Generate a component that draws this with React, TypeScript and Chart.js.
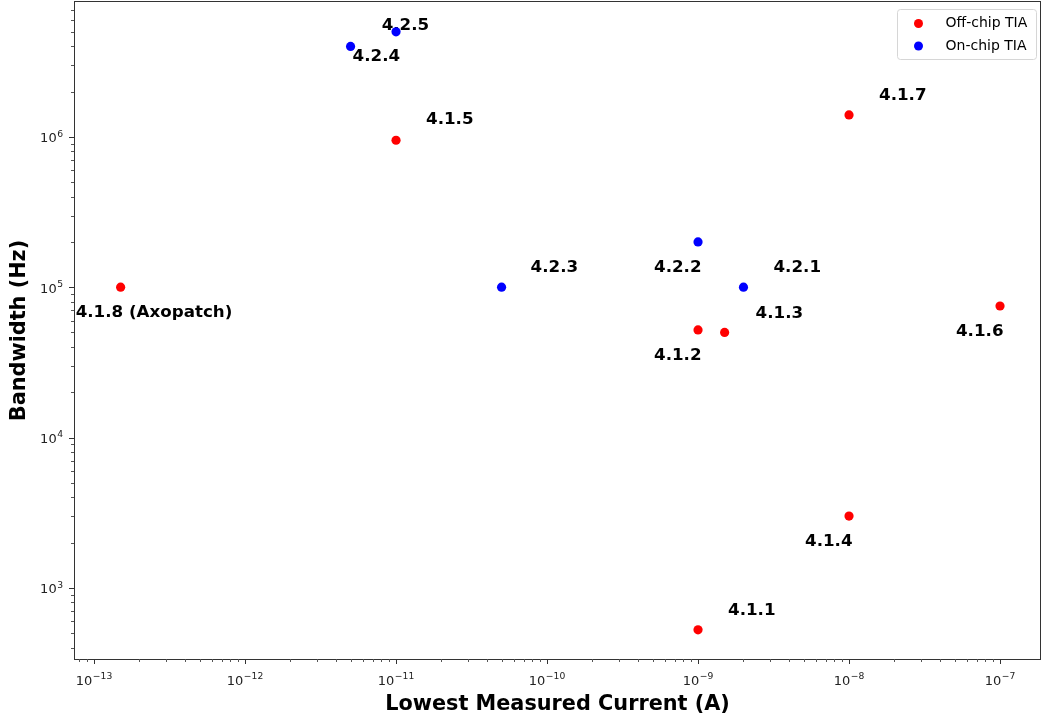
import React, { useEffect, useRef } from 'react';
import { Chart, registerables } from 'chart.js';

Chart.register(...registerables);

// ---------------- data ----------------
const offChipLabels = ['4.1.1', '4.1.2', '4.1.3', '4.1.4', '4.1.5', '4.1.6', '4.1.7', '4.1.8 (Axopatch)'];
const offChipCurrent = [1e-9, 1e-9, 1.5e-9, 1e-8, 1e-11, 1e-7, 1e-8, 1.5e-13];
const offChipBandwidth = [525, 5.2e4, 5e4, 3e3, 9.5e5, 7.5e4, 1.4e6, 1e5];

const onChipLabels = ['4.2.1', '4.2.2', '4.2.3', '4.2.4', '4.2.5'];
const onChipCurrent = [2e-9, 1e-9, 5e-11, 5e-12, 1e-11];
const onChipBandwidth = [1e5, 2e5, 1e5, 4e6, 5e6];

const xDecades = [-13, -12, -11, -10, -9, -8, -7];
const yDecades = [3, 4, 5, 6];
const xRange = [7.48e-14, 1.84e-7];
const yRange = [336, 7.9e6];

// ---------------- label placement (pixel offsets: text left edge, digit mid-line) ----------------
const offChipLabelOffsets = [[30, -21], [-44, 24], [31, -21], [-44, 24], [30, -22], [-44, 24], [30, -21], [-45, 24]];
const onChipLabelOffsets = [[30, -21], [-44, 23.5], [29, -21], [2, 8], [-14.4, -7.7]];

const FONT = '"DejaVu Sans", "Liberation Sans", sans-serif';

function buildTicks(decades: number[], range: number[]) {
  const ticks: { value: number; major: boolean; exp: number }[] = [];
  const lo = Math.floor(Math.log10(range[0]));
  const hi = Math.floor(Math.log10(range[1]));
  for (let d = lo; d <= hi; d++) {
    for (let m = 1; m <= 9; m++) {
      const v = m * Math.pow(10, d);
      if (v >= range[0] && v <= range[1]) {
        ticks.push({ value: v, major: m === 1 && decades.includes(d), exp: d });
      }
    }
  }
  return ticks;
}

const xTickList = buildTicks(xDecades, xRange);
const yTickList = buildTicks(yDecades, yRange);

const expText = (e: number) => String(e).replace('-', '\u2212');

function drawPow(ctx: CanvasRenderingContext2D, exp: number, x: number, baseline: number, align: 'center' | 'right') {
  const base = 13;
  const small = 9.2;
  ctx.font = `${base}px ${FONT}`;
  const w1 = ctx.measureText('10').width;
  ctx.font = `${small}px ${FONT}`;
  const et = expText(exp);
  const w2 = ctx.measureText(et).width;
  const total = w1 + w2 + 0.5;
  const x0 = align === 'center' ? x - total / 2 : x - total;
  ctx.textAlign = 'left';
  ctx.textBaseline = 'alphabetic';
  ctx.font = `${base}px ${FONT}`;
  ctx.fillText('10', x0, baseline);
  ctx.font = `${small}px ${FONT}`;
  ctx.fillText(et, x0 + w1 + 0.5, baseline - 5.8);
}

const decorPlugin = {
  id: 'decor',
  beforeDatasetsDraw(chart: any) {
    const { ctx, scales } = chart;
    const size = 16.7;
    ctx.save();
    ctx.font = `bold ${size}px ${FONT}`;
    ctx.fillStyle = '#000';
    ctx.textAlign = 'left';
    ctx.textBaseline = 'alphabetic';
    const groups = [
      { xs: offChipCurrent, ys: offChipBandwidth, labels: offChipLabels, offs: offChipLabelOffsets },
      { xs: onChipCurrent, ys: onChipBandwidth, labels: onChipLabels, offs: onChipLabelOffsets },
    ];
    groups.forEach((g) => {
      g.labels.forEach((lab, i) => {
        const px = scales.x.getPixelForValue(g.xs[i]);
        const py = scales.y.getPixelForValue(g.ys[i]);
        const [dx, dy] = g.offs[i];
        ctx.fillText(lab, px + dx, py + dy + 0.3645 * size);
      });
    });
    ctx.restore();
  },
  afterDraw(chart: any) {
    const { ctx, chartArea, scales } = chart;
    const { left, right, top, bottom } = chartArea;
    ctx.save();
    // frame
    ctx.strokeStyle = '#333';
    ctx.lineWidth = 1;
    ctx.strokeRect(left - 0.5, top - 0.5, right - left + 1, bottom - top + 1);
    // tick marks + tick labels
    ctx.fillStyle = '#222';
    xTickList.forEach((t) => {
      const raw = scales.x.getPixelForValue(t.value);
      const px = Math.round(raw) + 0.5;
      const len = t.major ? 5 : 3;
      ctx.strokeStyle = t.major ? '#333' : '#555';
      ctx.beginPath();
      ctx.moveTo(px, bottom);
      ctx.lineTo(px, bottom + len);
      ctx.stroke();
      if (t.major) drawPow(ctx, t.exp, raw, bottom + 25.5, 'center');
    });
    yTickList.forEach((t) => {
      const raw = scales.y.getPixelForValue(t.value);
      const py = Math.round(raw) + 0.5;
      const len = t.major ? 5 : 3;
      ctx.strokeStyle = t.major ? '#333' : '#555';
      ctx.beginPath();
      ctx.moveTo(left - 1, py);
      ctx.lineTo(left - 1 - len, py);
      ctx.stroke();
      if (t.major) drawPow(ctx, t.exp, left - 12, raw + 5.5, 'right');
    });
    // legend
    const bw = 139;
    const bh = 50;
    const bx = right - 3.5 - bw;
    const by = top + 7.5;
    ctx.beginPath();
    ctx.roundRect(bx, by, bw, bh, 3);
    ctx.fillStyle = 'rgba(255,255,255,0.8)';
    ctx.fill();
    ctx.strokeStyle = '#d6d6d6';
    ctx.stroke();
    const lsize = 14;
    ctx.font = `${lsize}px ${FONT}`;
    ctx.textAlign = 'left';
    ctx.textBaseline = 'alphabetic';
    chart.data.datasets.forEach((ds: any, i: number) => {
      const my = by + 14 + i * 22.5;
      ctx.beginPath();
      ctx.arc(bx + 21, my, 4.5, 0, Math.PI * 2);
      ctx.fillStyle = ds.backgroundColor;
      ctx.fill();
      ctx.fillStyle = '#000';
      ctx.fillText(ds.label, bx + 48, my - 1.2 + 0.3645 * lsize);
    });
    ctx.restore();
  },
};

export default function App() {
  const canvasRef = useRef<HTMLCanvasElement | null>(null);

  useEffect(() => {
    if (!canvasRef.current) return;
    const chart = new Chart(canvasRef.current, {
      type: 'scatter',
      data: {
        datasets: [
          {
            label: 'Off-chip TIA',
            data: offChipCurrent.map((x, i) => ({ x, y: offChipBandwidth[i] })),
            backgroundColor: '#ff0000',
            borderWidth: 0,
            pointRadius: 4.6,
            pointHoverRadius: 4.6,
          },
          {
            label: 'On-chip TIA',
            data: onChipCurrent.map((x, i) => ({ x, y: onChipBandwidth[i] })),
            backgroundColor: '#0000ff',
            borderWidth: 0,
            pointRadius: 4.6,
            pointHoverRadius: 4.6,
          },
        ],
      },
      options: {
        animation: false,
        responsive: false,
        devicePixelRatio: 1,
        events: [],
        layout: { autoPadding: false, padding: { top: 2, right: 1, left: 0, bottom: 0 } },
        plugins: {
          legend: { display: false },
          tooltip: { enabled: false },
        },
        scales: {
          x: {
            type: 'logarithmic',
            min: xRange[0],
            max: xRange[1],
            afterBuildTicks: (scale: any) => {
              scale.ticks = xTickList.map((t) => ({ value: t.value, major: t.major }));
            },
            afterFit: (scale: any) => {
              scale.height = 59;
              scale.paddingLeft = 0;
              scale.paddingRight = 0;
            },
            grid: { display: false, drawTicks: false },
            border: { display: false },
            ticks: { display: false, autoSkip: false },
            title: {
              display: true,
              text: 'Lowest Measured Current (A)',
              color: '#000',
              font: { family: FONT, size: 20.8, weight: 'bold' },
              padding: { top: 0, bottom: 1 },
            },
          },
          y: {
            type: 'logarithmic',
            min: yRange[0],
            max: yRange[1],
            afterBuildTicks: (scale: any) => {
              scale.ticks = yTickList.map((t) => ({ value: t.value, major: t.major }));
            },
            afterFit: (scale: any) => {
              scale.width = 75;
              scale.paddingTop = 0;
              scale.paddingBottom = 0;
            },
            grid: { display: false, drawTicks: false },
            border: { display: false },
            ticks: { display: false, autoSkip: false },
            title: {
              display: true,
              text: 'Bandwidth (Hz)',
              color: '#000',
              font: { family: FONT, size: 20.8, weight: 'bold' },
              padding: { top: 7.5, bottom: 0 },
            },
          },
        },
      },
      plugins: [decorPlugin],
    } as any);
    return () => chart.destroy();
  }, []);

  return (
    <div style={{ position: 'fixed', left: 0, top: 0, width: 1041, height: 718, background: '#fff' }}>
      <canvas ref={canvasRef} width={1041} height={718} style={{ display: 'block' }} />
    </div>
  );
}
